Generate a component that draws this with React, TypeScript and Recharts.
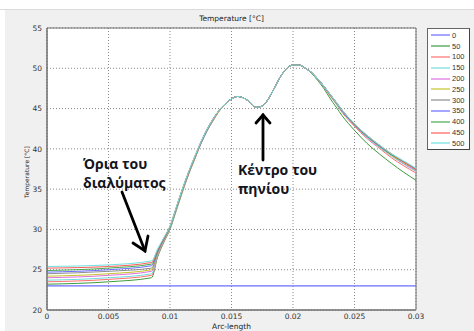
import { LineChart, Line, XAxis, YAxis, CartesianGrid, ReferenceArea } from "recharts";

// arc-length sample points [m]
const ARC_LENGTH = [
  0, 0.005, 0.0085, 0.009, 0.0095, 0.01, 0.0105, 0.011, 0.0115, 0.012, 0.0125, 0.013, 0.0135, 0.014,
  0.0145, 0.015, 0.0155, 0.016, 0.0165, 0.017, 0.0175, 0.018, 0.0185, 0.019, 0.0195, 0.02, 0.0205, 0.021,
  0.0215, 0.022, 0.0225, 0.023, 0.0235, 0.024, 0.025, 0.026, 0.027, 0.028, 0.029, 0.03,
];

const X_TICKS = [0, 0.005, 0.01, 0.015, 0.02, 0.025, 0.03];
const Y_TICKS = [20, 25, 30, 35, 40, 45, 50, 55];

// temperature [°C] along the arc, one array per time step
const T_0 = [
  23, 23, 23, 23, 23, 23, 23, 23, 23, 23, 23, 23, 23, 23, 23, 23, 23, 23, 23, 23,
  23, 23, 23, 23, 23, 23, 23, 23, 23, 23, 23, 23, 23, 23, 23, 23, 23, 23, 23, 23,
];
const T_50 = [
  23.2, 23.5, 24.0, 26.6, 28.4, 30.0, 32.3, 34.6, 36.8, 38.7, 40.6, 42.2, 43.5, 44.7,
  45.6, 46.2, 46.5, 46.3, 45.8, 45.15, 45.3, 46.2, 47.6, 49.0, 50.0, 50.4, 50.4, 50.0,
  49.4, 48.5, 47.5, 46.3, 45.2, 44.1, 42.3, 40.7, 39.4, 38.2, 37.1, 36.1,
];
const T_100 = [
  23.5, 23.8, 24.3, 26.8, 28.5, 30.1, 32.4, 34.7, 36.8, 38.7, 40.6, 42.2, 43.5, 44.7,
  45.6, 46.2, 46.5, 46.3, 45.8, 45.15, 45.3, 46.2, 47.6, 49.0, 50.0, 50.4, 50.4, 50.0,
  49.5, 48.6, 47.7, 46.6, 45.6, 44.5, 42.8, 41.3, 40.1, 38.9, 37.9, 37.0,
];
const T_150 = [
  23.7, 24.0, 24.5, 26.9, 28.6, 30.1, 32.4, 34.8, 36.9, 38.8, 40.6, 42.2, 43.6, 44.7,
  45.6, 46.2, 46.5, 46.3, 45.8, 45.15, 45.3, 46.2, 47.6, 49.0, 50.0, 50.4, 50.4, 50.0,
  49.5, 48.6, 47.7, 46.7, 45.6, 44.6, 42.9, 41.4, 40.2, 39.1, 38.1, 37.2,
];
const T_200 = [
  24.0, 24.3, 24.8, 27.0, 28.7, 30.2, 32.5, 34.8, 36.9, 38.8, 40.7, 42.3, 43.6, 44.7,
  45.6, 46.2, 46.5, 46.3, 45.8, 45.15, 45.3, 46.2, 47.6, 49.0, 50.0, 50.4, 50.4, 50.0,
  49.5, 48.7, 47.7, 46.7, 45.7, 44.7, 42.9, 41.5, 40.3, 39.2, 38.2, 37.3,
];
const T_250 = [
  24.2, 24.5, 25.0, 27.1, 28.7, 30.2, 32.5, 34.8, 36.9, 38.8, 40.7, 42.3, 43.6, 44.7,
  45.6, 46.2, 46.5, 46.3, 45.8, 45.15, 45.3, 46.2, 47.6, 49.0, 50.0, 50.4, 50.4, 50.0,
  49.5, 48.7, 47.8, 46.7, 45.7, 44.7, 43.0, 41.6, 40.4, 39.2, 38.3, 37.4,
];
const T_300 = [
  24.5, 24.8, 25.2, 27.2, 28.8, 30.3, 32.6, 34.9, 37.0, 38.9, 40.7, 42.3, 43.6, 44.8,
  45.6, 46.2, 46.5, 46.3, 45.8, 45.15, 45.3, 46.2, 47.6, 49.0, 50.0, 50.4, 50.4, 50.0,
  49.5, 48.7, 47.8, 46.7, 45.7, 44.7, 43.0, 41.6, 40.4, 39.3, 38.4, 37.4,
];
const T_350 = [
  24.7, 25.0, 25.5, 27.3, 28.8, 30.3, 32.6, 34.9, 37.0, 38.9, 40.7, 42.3, 43.7, 44.8,
  45.6, 46.2, 46.5, 46.3, 45.8, 45.15, 45.3, 46.2, 47.6, 49.0, 50.0, 50.4, 50.4, 50.0,
  49.5, 48.7, 47.8, 46.8, 45.8, 44.7, 43.0, 41.6, 40.4, 39.3, 38.4, 37.5,
];
const T_400 = [
  24.9, 25.2, 25.7, 27.4, 28.9, 30.3, 32.6, 34.9, 37.0, 38.9, 40.8, 42.4, 43.7, 44.8,
  45.6, 46.2, 46.5, 46.3, 45.8, 45.15, 45.3, 46.2, 47.6, 49.0, 50.0, 50.4, 50.4, 50.0,
  49.5, 48.7, 47.8, 46.8, 45.8, 44.8, 43.0, 41.6, 40.4, 39.3, 38.4, 37.5,
];
const T_450 = [
  25.2, 25.4, 25.9, 27.5, 28.9, 30.4, 32.7, 35.0, 37.1, 39.0, 40.8, 42.4, 43.7, 44.8,
  45.6, 46.2, 46.5, 46.3, 45.8, 45.15, 45.3, 46.2, 47.6, 49.0, 50.0, 50.4, 50.4, 50.0,
  49.5, 48.7, 47.8, 46.8, 45.8, 44.8, 43.1, 41.7, 40.5, 39.4, 38.4, 37.5,
];
const T_500 = [
  25.4, 25.6, 26.1, 27.6, 29.0, 30.4, 32.7, 35.0, 37.1, 39.0, 40.8, 42.4, 43.7, 44.8,
  45.6, 46.2, 46.5, 46.3, 45.8, 45.15, 45.3, 46.2, 47.6, 49.0, 50.0, 50.4, 50.4, 50.0,
  49.5, 48.7, 47.8, 46.8, 45.8, 44.8, 43.1, 41.7, 40.5, 39.4, 38.5, 37.6,
];

const SERIES_NAMES = ["0", "50", "100", "150", "200", "250", "300", "350", "400", "450", "500"];
const SERIES_VALUES = [T_0, T_50, T_100, T_150, T_200, T_250, T_300, T_350, T_400, T_450, T_500];
const SERIES_COLORS = [
  "#6b6bff", "#3f9a3f", "#ff6e6e", "#6fdcdc", "#e06ee0", "#c4c42a",
  "#8e8e8e", "#6b6bff", "#4aa84a", "#ff5c5c", "#6fe2e2",
];

const data = ARC_LENGTH.map((x, i) => {
  const row: Record<string, number> = { x };
  SERIES_NAMES.forEach((name, k) => {
    row["t" + name] = SERIES_VALUES[k][i];
  });
  return row;
});

const FONT = "'DejaVu Sans', sans-serif";
const tickStyle = { fontSize: 7.5, fill: "#333", fontFamily: FONT };
const noteStyle: React.CSSProperties = {
  position: "absolute",
  fontFamily: "'Open Sans', sans-serif",
  fontWeight: 700,
  fontSize: 14,
  lineHeight: "19px",
  color: "#14141c",
  whiteSpace: "nowrap",
};

function Legend() {
  return (
    <div
      style={{
        position: "absolute",
        left: 427,
        top: 28,
        width: 43,
        height: 122,
        background: "#fff",
        border: "1px solid #666",
        borderRightColor: "#444",
        borderBottomColor: "#444",
        boxSizing: "border-box",
        paddingTop: 1,
      }}
    >
      {SERIES_NAMES.map((name, k) => (
        <div key={name} style={{ display: "flex", alignItems: "center", height: 10.8 }}>
          <svg width={24} height={6} style={{ flexShrink: 0 }}>
            <line x1={3} x2={22} y1={3} y2={3} stroke={SERIES_COLORS[k]} strokeWidth={1.2} />
          </svg>
          <span style={{ fontFamily: "'Liberation Sans', Arial, sans-serif", fontSize: 7.5, color: "#333", whiteSpace: "nowrap" }}>
            {name}
          </span>
        </div>
      ))}
    </div>
  );
}

export default function App() {
  return (
    <div style={{ position: "fixed", left: 0, top: 0, width: 474, height: 331, background: "#fff", overflow: "hidden" }}>
      <div style={{ position: "absolute", left: 0, top: 9, width: 474, height: 1, background: "#dadada" }} />
      <div style={{ position: "absolute", left: 5, top: 10, width: 469, height: 321, background: "#f0f0f0" }} />

      <div style={{ position: "absolute", left: 0, top: 0 }}>
        <LineChart width={474} height={331} data={data} margin={{ top: 28, right: 58, bottom: 1, left: 7 }}>
          <CartesianGrid stroke="#8a8a8a" strokeDasharray="1 2" fill="#fff" />
          <XAxis
            dataKey="x"
            type="number"
            domain={[0, 0.03]}
            ticks={X_TICKS}
            allowDataOverflow
            height={20}
            tick={tickStyle}
            tickLine={false}
            tickSize={0}
            tickMargin={4}
            axisLine={{ stroke: "#6e6e6e" }}
          />
          <YAxis
            type="number"
            domain={[20, 55]}
            ticks={Y_TICKS}
            allowDataOverflow
            width={40}
            tick={tickStyle}
            tickLine={false}
            tickSize={0}
            tickMargin={5}
            axisLine={{ stroke: "#6e6e6e" }}
          />
          {/* frame around the axes box */}
          <ReferenceArea x1={0} x2={0.03} y1={20} y2={55} fill="none" stroke="#6e6e6e" strokeWidth={1} />
          {SERIES_NAMES.map((name, k) => (
            <Line
              key={name}
              type="monotone"
              dataKey={"t" + name}
              stroke={SERIES_COLORS[k]}
              strokeWidth={k === 0 ? 1.4 : 1}
              dot={false}
              isAnimationActive={false}
            />
          ))}
        </LineChart>
      </div>

      {/* titles */}
      <div style={{ position: "absolute", left: 47, width: 369, top: 14, textAlign: "center", fontFamily: FONT, fontSize: 7.5, color: "#222" }}>
        Temperature [°C]
      </div>
      <div style={{ position: "absolute", left: 47, width: 369, top: 322, textAlign: "center", fontFamily: FONT, fontSize: 7.5, color: "#222" }}>
        Arc-length
      </div>
      <div
        style={{
          position: "absolute",
          left: 26,
          top: 172,
          transform: "translate(-50%, -50%) rotate(-90deg)",
          fontFamily: FONT,
          fontSize: 6,
          color: "#222",
          whiteSpace: "nowrap",
        }}
      >
        Temperature [°C]
      </div>

      <Legend />

      {/* annotations */}
      <div style={{ ...noteStyle, left: 83, top: 154 }}>
        Όρια του
        <br />
        διαλύματος
      </div>
      <div style={{ ...noteStyle, left: 238, top: 160 }}>
        Κέντρο του
        <br />
        πηνίου
      </div>
      <svg width={474} height={331} style={{ position: "absolute", left: 0, top: 0, pointerEvents: "none" }}>
        <g stroke="#000" strokeWidth={2.8} strokeLinecap="round" fill="none">
          <line x1={122} y1={192} x2={145} y2={251} />
          <polyline points="133,243 145,251 148,236" />
          <line x1={263} y1={160} x2={263} y2={115} />
          <polyline points="256,123 263,115 270,123" />
        </g>
      </svg>
    </div>
  );
}
